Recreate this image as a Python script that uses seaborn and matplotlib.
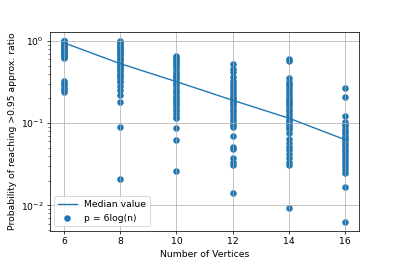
import matplotlib
matplotlib.use("Agg")
import matplotlib.pyplot as plt
import seaborn as sns
import pandas as pd

vertices = [6, 8, 10, 12, 14, 16]
median_values = [0.95, 0.53, 0.32, 0.19, 0.115, 0.063]

probs_6 = [1.0, 1.0, 1.0, 1.0, 1.0, 0.98, 0.97, 0.95, 0.93, 0.9, 0.88, 0.86, 0.84, 0.82,
           0.8, 0.78, 0.76, 0.74, 0.72, 0.7, 0.68, 0.66, 0.64, 0.62,
           0.33, 0.31, 0.29, 0.27, 0.25, 0.24]
probs_8 = [1.0, 0.97, 0.94, 0.91, 0.88, 0.85, 0.82, 0.79, 0.76, 0.73, 0.7, 0.67, 0.64,
           0.61, 0.58, 0.55, 0.53, 0.51, 0.49, 0.47, 0.45, 0.43, 0.41, 0.39, 0.37, 0.35,
           0.33, 0.32, 0.28, 0.25, 0.22, 0.18, 0.089, 0.021]
probs_10 = [0.66, 0.63, 0.6, 0.57, 0.54, 0.51, 0.48, 0.45, 0.42, 0.4, 0.38, 0.36, 0.34,
            0.32, 0.3, 0.28, 0.26, 0.245, 0.23, 0.215, 0.2, 0.19, 0.18, 0.17, 0.16,
            0.15, 0.14, 0.13, 0.12, 0.115, 0.088, 0.063, 0.026]
probs_12 = [0.52, 0.46, 0.42, 0.36, 0.33, 0.3, 0.28, 0.26, 0.24, 0.225, 0.21, 0.2,
            0.19, 0.18, 0.17, 0.16, 0.15, 0.14, 0.13, 0.12, 0.11, 0.1, 0.095, 0.09,
            0.069, 0.052, 0.048, 0.038, 0.034, 0.031, 0.0143]
probs_14 = [0.6, 0.57, 0.35, 0.32, 0.3, 0.28, 0.26, 0.24, 0.22, 0.2, 0.19, 0.18, 0.17,
            0.16, 0.15, 0.14, 0.13, 0.12, 0.11, 0.105, 0.1, 0.095, 0.09, 0.085,
            0.075, 0.065, 0.058, 0.052, 0.047, 0.042, 0.038, 0.034, 0.031, 0.0092]
probs_16 = [0.27, 0.21, 0.123, 0.104, 0.098, 0.092, 0.086, 0.08, 0.075, 0.07, 0.066,
            0.062, 0.058, 0.054, 0.05, 0.047, 0.044, 0.041, 0.038, 0.035, 0.032,
            0.029, 0.027, 0.025, 0.0165, 0.0063]

all_probs = [probs_6, probs_8, probs_10, probs_12, probs_14, probs_16]
xs, ys = [], []
for v, pl in zip(vertices, all_probs):
    xs += [v] * len(pl)
    ys += pl
scatter_df = pd.DataFrame({"n": xs, "p": ys})
median_df = pd.DataFrame({"n": vertices, "p": median_values})

fig, ax = plt.subplots(figsize=(6, 4), dpi=66.5)
fig.subplots_adjust(left=0.125, right=0.9, top=0.88, bottom=0.132)

sns.lineplot(data=median_df, x="n", y="p", ax=ax, color="#1f77b4", label="Median value")
sns.scatterplot(data=scatter_df, x="n", y="p", ax=ax, color="#1f77b4", s=50,
                linewidth=0, label="p = 6log(n)")

ax.set_yscale("log")
ax.set_xticks(vertices)
ax.grid(True, which="major")
ax.set_xlabel("Number of Vertices")
ax.set_ylabel("Probability of reaching >0.95 approx. ratio")
ax.legend(loc="lower left")

fig.savefig("out.png", dpi=66.5)
